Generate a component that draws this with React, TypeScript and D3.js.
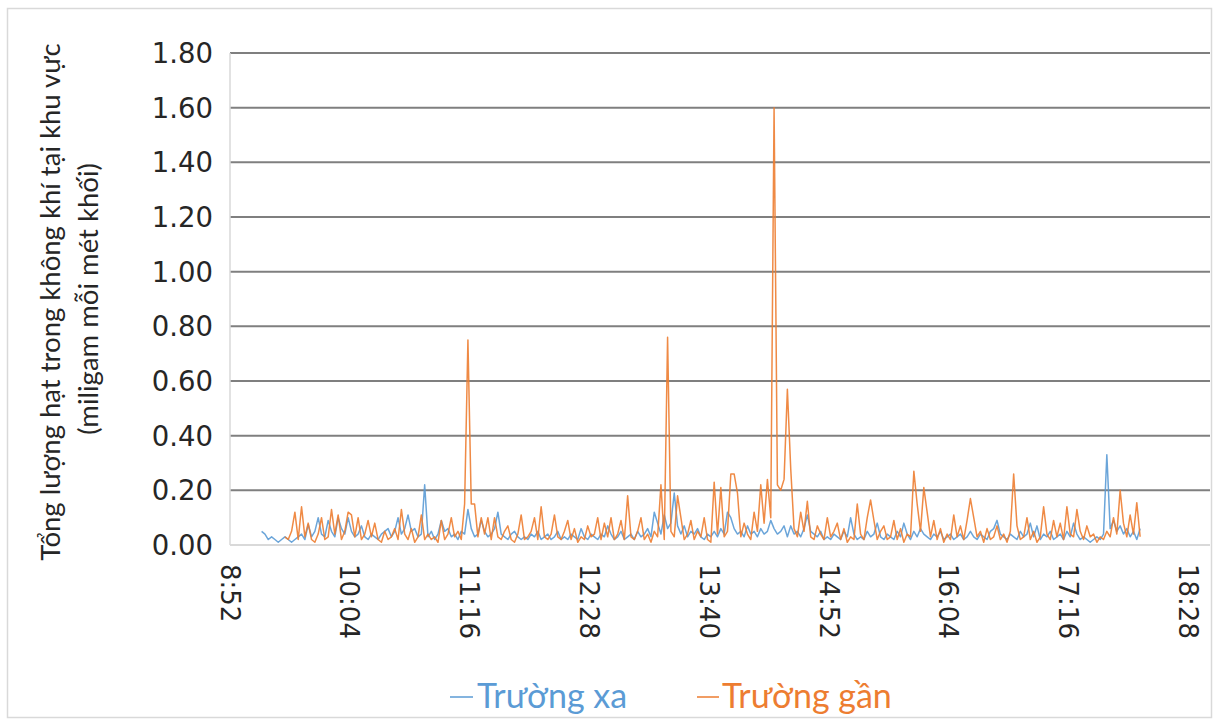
import React from "react";
import * as d3 from "d3";

// Sampling: one reading every 2 minutes starting at 9:11
const startTime = "9:11";
const stepMinutes = 2;

const tickLabels = ["8:52", "10:04", "11:16", "12:28", "13:40", "14:52", "16:04", "17:16", "18:28"];
const yTicks = [0, 0.2, 0.4, 0.6, 0.8, 1.0, 1.2, 1.4, 1.6, 1.8];

const seriesNames = ["Trường xa", "Trường gần"];

const truongXa: (number | null)[] = [
  0.05, 0.04, 0.02, 0.03, 0.02, 0.01, 0.02, 0.03, 0.02, 0.01,
  0.02, 0.03, 0.04, 0.02, 0.075, 0.03, 0.05, 0.10, 0.04, 0.03,
  0.09, 0.05, 0.03, 0.10, 0.06, 0.04, 0.10, 0.05, 0.03, 0.04,
  0.07, 0.03, 0.02, 0.04, 0.03, 0.02, 0.04, 0.05, 0.06, 0.03,
  0.05, 0.10, 0.04, 0.06, 0.11, 0.05, 0.06, 0.03, 0.04, 0.22,
  0.03, 0.05, 0.02, 0.04, 0.09, 0.05, 0.06, 0.03, 0.04, 0.02,
  0.05, 0.04, 0.13, 0.06, 0.03, 0.04, 0.09, 0.05, 0.03, 0.04,
  0.06, 0.12, 0.04, 0.03, 0.02, 0.04, 0.05, 0.03, 0.02, 0.03,
  0.02, 0.04, 0.03, 0.05, 0.02, 0.03, 0.04, 0.02, 0.03, 0.05,
  0.02, 0.03, 0.02, 0.04, 0.03, 0.02, 0.06, 0.03, 0.02, 0.04,
  0.03, 0.02, 0.04, 0.03, 0.07, 0.04, 0.02, 0.03, 0.05, 0.02,
  0.03, 0.04, 0.02, 0.05, 0.03, 0.04, 0.06, 0.03, 0.12, 0.08,
  0.04, 0.11, 0.06, 0.08, 0.19, 0.07, 0.04, 0.07, 0.03, 0.05,
  0.04, 0.06, 0.03, 0.02, 0.04, 0.03, 0.05, 0.03, 0.06, 0.04,
  0.12, 0.10, 0.06, 0.04, 0.05, 0.03, 0.07, 0.04, 0.05, 0.03,
  0.06, 0.04, 0.05, 0.09, 0.06, 0.04, 0.05, 0.07, 0.03, 0.07,
  0.04, 0.05, 0.03, 0.06, 0.11, 0.05, 0.04, 0.03, 0.05, 0.02,
  0.03, 0.02, 0.04, 0.03, 0.02, 0.05, 0.03, 0.10, 0.04, 0.02,
  0.03, 0.02, 0.05, 0.03, 0.04, 0.08, 0.03, 0.02, 0.04, 0.03,
  0.02, 0.05, 0.03, 0.08, 0.04, 0.02, 0.05, 0.03, 0.06, 0.04,
  0.03, 0.02, 0.04, 0.03, 0.05, 0.02, 0.03, 0.04, 0.02, 0.03,
  0.04, 0.02, 0.03, 0.05, 0.03, 0.02, 0.04, 0.03, 0.02, 0.05,
  0.06, 0.09, 0.04, 0.03, 0.02, 0.04, 0.03, 0.02, 0.05, 0.03,
  0.04, 0.08, 0.03, 0.07, 0.02, 0.04, 0.03, 0.05, 0.02, 0.03,
  0.04, 0.02, 0.05, 0.03, 0.08, 0.04, 0.02, 0.03, 0.02, 0.01,
  0.02, 0.03, 0.02, 0.04, 0.33, 0.06, 0.09, 0.05, 0.07, 0.04,
  0.06, 0.03, 0.05, 0.02, 0.06,
];

const truongGan: (number | null)[] = [
  null, null, null, null, null, null, null, 0.03, 0.02, 0.05,
  0.12, 0.02, 0.14, 0.03, 0.08, 0.02, 0.01, 0.04, 0.10, 0.02,
  0.03, 0.13, 0.04, 0.11, 0.02, 0.05, 0.12, 0.11, 0.03, 0.10,
  0.02, 0.04, 0.09, 0.03, 0.08, 0.02, 0.01, 0.05, 0.02, 0.03,
  0.06, 0.02, 0.13, 0.04, 0.02, 0.06, 0.01, 0.03, 0.11, 0.02,
  0.04, 0.02, 0.03, 0.01, 0.09, 0.02, 0.04, 0.10, 0.03, 0.05,
  0.02, 0.15, 0.75, 0.15, 0.15, 0.03, 0.10, 0.04, 0.10, 0.02,
  0.10, 0.03, 0.02, 0.05, 0.07, 0.02, 0.01, 0.04, 0.11, 0.02,
  0.03, 0.05, 0.10, 0.02, 0.14, 0.03, 0.02, 0.04, 0.11, 0.03,
  0.02, 0.05, 0.09, 0.02, 0.06, 0.01, 0.03, 0.02, 0.07, 0.03,
  0.04, 0.10, 0.02, 0.08, 0.03, 0.10, 0.02, 0.04, 0.09, 0.02,
  0.18, 0.03, 0.02, 0.05, 0.10, 0.02, 0.04, 0.01, 0.05, 0.03,
  0.22, 0.02, 0.76, 0.05, 0.03, 0.18, 0.10, 0.02, 0.04, 0.09,
  0.02, 0.05, 0.03, 0.10, 0.02, 0.01, 0.23, 0.04, 0.21, 0.03,
  0.05, 0.26, 0.26, 0.19, 0.03, 0.08, 0.04, 0.02, 0.12, 0.05,
  0.22, 0.08, 0.24, 0.10, 1.60, 0.22, 0.20, 0.24, 0.57, 0.28,
  0.06, 0.03, 0.12, 0.05, 0.16, 0.03, 0.02, 0.07, 0.04, 0.02,
  0.10, 0.03, 0.05, 0.08, 0.02, 0.06, 0.01, 0.03, 0.02, 0.15,
  0.04, 0.02, 0.10, 0.165, 0.09, 0.02, 0.05, 0.07, 0.02, 0.03,
  0.09, 0.02, 0.06, 0.01, 0.04, 0.03, 0.27, 0.15, 0.05, 0.21,
  0.12, 0.03, 0.09, 0.02, 0.06, 0.01, 0.04, 0.02, 0.11, 0.03,
  0.07, 0.02, 0.09, 0.17, 0.10, 0.03, 0.05, 0.01, 0.06, 0.02,
  0.03, 0.07, 0.02, 0.04, 0.01, 0.05, 0.26, 0.07, 0.02, 0.03,
  0.10, 0.02, 0.05, 0.01, 0.03, 0.14, 0.04, 0.02, 0.09, 0.03,
  0.08, 0.02, 0.14, 0.04, 0.03, 0.13, 0.05, 0.02, 0.07, 0.03,
  0.04, 0.01, 0.03, 0.02, 0.05, 0.03, 0.10, 0.04, 0.20, 0.08,
  0.03, 0.11, 0.04, 0.155, 0.03,
];

const toMin = (s: string) => {
  const [h, m] = s.split(":").map(Number);
  return h * 60 + m;
};

const W = 1218;
const H = 723;
const plot = { left: 230, right: 1210, top: 53, bottom: 545 };

const BLUE = "#5B9BD5";
const ORANGE = "#ED7D31";

export default function App() {
  const x0 = toMin(tickLabels[0]);
  const x = d3
    .scaleLinear()
    .domain([x0, x0 + 589])
    .range([plot.left, plot.right]);
  const y = d3.scaleLinear().domain([0, 1.8]).range([plot.bottom, plot.top]);

  const t0 = toMin(startTime);
  const mk = (arr: (number | null)[]) =>
    d3
      .line<number | null>()
      .defined((d) => d !== null)
      .x((_, i) => x(t0 + i * stepMinutes))
      .y((d) => y(d as number))(arr) || "";

  const tickFont = "'DejaVu Sans', Verdana, sans-serif";
  const titleFont = "Lato, 'Open Sans', sans-serif";

  return (
    <svg
      width={W}
      height={H}
      style={{ position: "absolute", left: 0, top: 0, background: "#fff" }}
    >
      <rect x={7.5} y={8.5} width={1204} height={709} fill="#fff" stroke="#d9d9d9" strokeWidth={1.5} />

      {/* gridlines */}
      {yTicks.slice(1).map((v) => (
        <line
          key={v}
          x1={plot.left}
          x2={plot.right}
          y1={y(v)}
          y2={y(v)}
          stroke="#7f7f7f"
          strokeWidth={2}
        />
      ))}
      {/* axes */}
      <line x1={plot.left} x2={plot.left} y1={plot.top} y2={plot.bottom} stroke="#d9d9d9" strokeWidth={1.5} />
      <line x1={plot.left} x2={plot.right} y1={plot.bottom} y2={plot.bottom} stroke="#d9d9d9" strokeWidth={2} />

      {/* y tick labels */}
      {yTicks.map((v) => (
        <text
          key={v}
          x={213}
          y={y(v)}
          dy="0.36em"
          textAnchor="end"
          fontFamily={tickFont}
          fontSize={27.5}
          fill="#262626"
        >
          {v.toFixed(2)}
        </text>
      ))}

      {/* x tick labels */}
      {tickLabels.map((lab) => {
        const px = x(toMin(lab));
        return (
          <text
            key={lab}
            transform={`translate(${px},564) rotate(90)`}
            dy="0.36em"
            textAnchor="start"
            fontFamily={tickFont}
            fontSize={26}
            fill="#262626"
          >
            {lab}
          </text>
        );
      })}

      {/* series */}
      <path d={mk(truongXa)} fill="none" stroke={BLUE} strokeWidth={1.5} strokeOpacity={0.9} strokeLinejoin="round" />
      <path d={mk(truongGan)} fill="none" stroke={ORANGE} strokeWidth={1.5} strokeOpacity={0.9} strokeLinejoin="round" />

      {/* y axis title */}
      <text
        transform="translate(60,302) rotate(-90)"
        textAnchor="middle"
        fontFamily={titleFont}
        fontSize={27.5}
        fill="#262626"
      >
        Tổng lượng hạt trong không khí tại khu vực
      </text>
      <text
        transform="translate(98,299) rotate(-90)"
        textAnchor="middle"
        fontFamily={titleFont}
        fontSize={27.5}
        fill="#262626"
      >
        (miligam mỗi mét khối)
      </text>

      {/* legend */}
      <line x1={450} x2={473} y1={697} y2={697} stroke={BLUE} strokeWidth={1.5} />
      <text x={477} y={708} fontFamily={titleFont} fontSize={34} fill={BLUE}>
        {seriesNames[0]}
      </text>
      <line x1={697} x2={719} y1={697} y2={697} stroke={ORANGE} strokeWidth={1.5} />
      <text x={722} y={708} fontFamily={titleFont} fontSize={34} fill={ORANGE}>
        {seriesNames[1]}
      </text>
    </svg>
  );
}
